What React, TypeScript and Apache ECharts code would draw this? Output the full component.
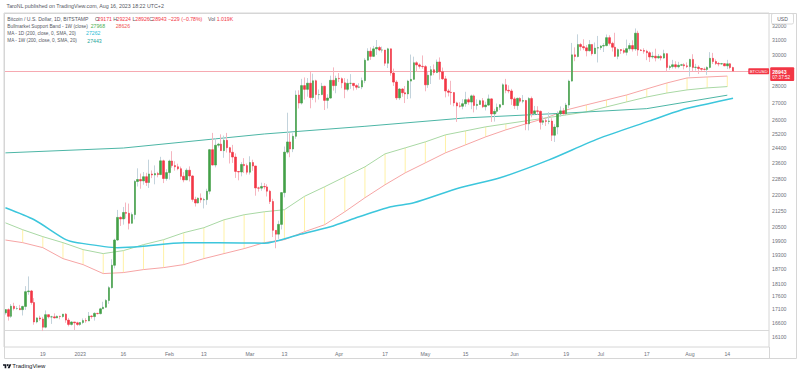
import React, { useEffect, useRef } from "react";
import * as echarts from "echarts";

// ---- categories (daily, Dec 6 2022 .. Aug 28 2023, last 12 days empty right margin)
const startDateUTC = [2022, 11, 6];
const categoryCount = 266;

// ---- daily candles (BITSTAMP BTCUSD), Dec 6 2022 .. Aug 16 2023; open = previous close
const firstOpen = 16970;
const closes = [
  // Dec 6-31
  17090, 16840, 17220, 17130, 17130, 17090, 17210, 17780, 17810, 17360, 16630, 16780, 16740, 16440, 16900, 16820, 16820, 16780, 16840, 16830, 16920, 16700, 16540, 16630, 16600, 16540,
  // Jan
  16610, 16680, 16670, 16850, 16830, 16950, 16940, 17120, 17180, 17440, 17940, 18850, 19930, 20950, 20880, 21180, 21140, 20680, 21080, 22680, 22780, 22710, 22920, 22630, 23060, 23010, 23080, 23030, 23740, 22830, 23130,
  // Feb
  23730, 23490, 23430, 23330, 22940, 22760, 23250, 22960, 21800, 21630, 21860, 21780, 21790, 22200, 24330, 23520, 24570, 24630, 24280, 24840, 24440, 24190, 23940, 23190, 23160, 23550, 23490, 23150,
  // Mar
  23650, 23470, 22360, 22350, 22430, 22410, 22200, 21700, 20360, 20190, 20630, 22130, 24200, 24750, 24370, 25060, 27450, 26970, 28030, 27800, 28180, 27300, 28330, 27480, 27480, 27990, 27130, 27270, 28360, 28030, 28480,
  // Apr
  28460, 28200, 27800, 28170, 28170, 28030, 27930, 27950, 28340, 29650, 30240, 29900, 30400, 30490, 30320, 30320, 29450, 30400, 28820, 28250, 27280, 27820, 27590, 27520, 28310, 28420, 29480, 29340, 29250, 29230,
  // May
  28080, 28680, 29030, 28850, 29530, 28900, 28450, 27700, 27620, 27600, 26980, 26800, 26780, 26930, 27170, 27030, 27400, 26830, 26890, 27110, 26750, 26850, 27220, 26330, 26480, 26720, 26870, 28080, 27740, 27700, 27220,
  // Jun
  26820, 27250, 27080, 27120, 25760, 27240, 26350, 26510, 26480, 25850, 25940, 25900, 25920, 25120, 25580, 26330, 26510, 26340, 26850, 28310, 30000, 29890, 30690, 30550, 30470, 30270, 30690, 30080, 30450, 30480,
  // Jul
  30590, 30620, 31160, 30770, 30510, 29900, 30350, 30290, 30170, 30410, 30620, 30390, 31470, 30320, 30290, 30240, 30140, 29860, 29910, 29800, 29900, 29790, 30080, 29180, 29230, 29350, 29220, 29320, 29350, 29280, 29230,
  // Aug 1-16
  29700, 29180, 29190, 29110, 29060, 29050, 29180, 29770, 29560, 29430, 29400, 29420, 29280, 29410, 29171, 28943,
];
const highs = [
  17100, 17140, 17300, 17350, 17220, 17270, 17240, 18000, 18390, 17850, 17530, 16800, 16860, 16820, 17060, 16900, 16860, 16950, 16870, 16860, 16930, 16960, 16780, 16660, 16630, 16640,
  16630, 16760, 16770, 17000, 16880, 16990, 16970, 17160, 17390, 17490, 18000, 19100, 19990, 21300, 21000, 21440, 21650, 21600, 21180, 22750, 23350, 23080, 23160, 23120, 23800, 23240, 23500, 23170, 23950, 23800, 23300,
  23800, 24250, 23720, 23590, 23440, 23150, 23350, 23450, 22990, 21930, 21900, 22090, 21880, 22320, 24370, 25250, 24950, 24700, 25170, 25100, 25250, 24480, 24590, 24130, 23200, 23670, 23880, 23600,
  23980, 23800, 23480, 22420, 22620, 22600, 22540, 22270, 21830, 20370, 20800, 22160, 24500, 26400, 25230, 25230, 27730, 27740, 28450, 28540, 28500, 28880, 28780, 28400, 27790, 28200, 28020, 27500, 28650, 29180, 28650,
  28820, 28540, 28500, 28450, 28750, 28190, 28110, 28180, 28530, 29780, 30440, 30500, 30600, 31000, 30600, 30550, 30330, 30470, 30420, 29100, 28370, 27880, 27880, 28000, 28390, 30020, 29880, 29580, 29440, 29960,
  29330, 28880, 29270, 29370, 29690, 29830, 29170, 28640, 27830, 28330, 27630, 27050, 27020, 27200, 27650, 27290, 27480, 27480, 27190, 27170, 27270, 27050, 27480, 27250, 26630, 26940, 26900, 28170, 28450, 28050, 27830,
  27340, 27300, 27320, 27450, 27160, 27330, 27360, 26800, 26780, 26530, 26200, 26090, 26430, 26080, 25740, 26480, 26770, 26680, 26980, 28400, 30800, 30500, 31390, 30800, 31050, 30650, 31000, 30710, 30830, 31280,
  30660, 30780, 31380, 31330, 30880, 31500, 30440, 30380, 30430, 31030, 30800, 30980, 31800, 31640, 30390, 30440, 30340, 30240, 30200, 30410, 30060, 29980, 30340, 30100, 29340, 29670, 29580, 29540, 29410, 29450, 29500,
  29740, 30040, 29410, 29310, 29120, 29180, 29250, 30180, 30130, 29700, 29530, 29470, 29460, 29670, 29460, 29224,
];
const lows = [
  16900, 16680, 16780, 17060, 17090, 17070, 16870, 17080, 17660, 17280, 16530, 16580, 16670, 16300, 16400, 16760, 16560, 16760, 16770, 16730, 16790, 16600, 16470, 16500, 16340, 16490,
  16490, 16550, 16600, 16660, 16750, 16680, 16910, 16910, 17110, 17150, 17310, 17900, 18720, 19890, 20560, 20620, 20900, 20400, 20660, 20860, 22430, 22320, 22520, 22460, 22360, 22850, 22540, 22890, 23000, 22600, 22720,
  22780, 23380, 23230, 23250, 22770, 22640, 22750, 22680, 21690, 21460, 21600, 21640, 21370, 21540, 22050, 23500, 23400, 24450, 24260, 23900, 24180, 23600, 23630, 22860, 22740, 22940, 23110, 23030,
  23030, 23220, 21980, 22180, 22220, 22290, 21940, 21580, 20060, 19570, 19980, 20400, 21900, 24100, 23930, 24200, 24920, 26650, 26880, 27180, 27350, 26660, 27160, 27010, 27180, 27440, 26560, 26650, 27230, 27720, 27560,
  28250, 27870, 27260, 27680, 27830, 27730, 27780, 27870, 27810, 28180, 29620, 29670, 29870, 29990, 30240, 30150, 29280, 29140, 28650, 28010, 27150, 27150, 27350, 26970, 27210, 27250, 28390, 28910, 29100, 29090,
  27680, 27890, 28130, 28680, 28810, 28400, 28390, 27310, 27370, 26870, 26780, 25870, 26700, 26600, 26750, 26870, 26610, 26420, 26580, 26860, 26670, 26530, 26800, 25870, 25890, 26360, 26560, 26860, 27560, 27560, 26860,
  26620, 26570, 26960, 26960, 25400, 25390, 26130, 26280, 26290, 25440, 25700, 25640, 25740, 24800, 24750, 25170, 26170, 26300, 26250, 26660, 28280, 29580, 29830, 30280, 30310, 29900, 30230, 29950, 30050, 29500,
  30330, 30190, 30570, 30630, 30220, 29860, 29710, 30060, 30070, 29960, 30280, 30220, 30260, 29940, 30250, 30080, 29650, 29530, 29750, 29570, 29740, 29630, 29740, 28900, 29030, 29110, 29100, 29120, 29270, 29050, 29140,
  28600, 28950, 28970, 28760, 28960, 28980, 28700, 29120, 29400, 29330, 29250, 29360, 29260, 29070, 29060, 28926,
];

// ---- weekly indicators (plotted at each Monday)
const weekDates = [
  "2022-12-12", "2022-12-19", "2022-12-26", "2023-01-02", "2023-01-09", "2023-01-16", "2023-01-23", "2023-01-30",
  "2023-02-06", "2023-02-13", "2023-02-20", "2023-02-27", "2023-03-06", "2023-03-13", "2023-03-20", "2023-03-27",
  "2023-04-03", "2023-04-10", "2023-04-17", "2023-04-24", "2023-05-01", "2023-05-08", "2023-05-15", "2023-05-22",
  "2023-05-29", "2023-06-05", "2023-06-12", "2023-06-19", "2023-06-26", "2023-07-03", "2023-07-10", "2023-07-17",
  "2023-07-24", "2023-07-31", "2023-08-07", "2023-08-14",
];
const bandEma21 = [
  20389, 20079, 19815, 19512, 19341, 19469, 19728, 19946, 20255, 20479, 20841, 21074, 21213, 21309, 21950, 22418,
  22918, 23426, 24108, 24428, 24754, 25141, 25364, 25590, 25760, 25929, 26099, 26273, 26449, 26743, 27038, 27333,
  27574, 27764, 27888, 27968,
];
const bandSma20 = [
  19815, 19598, 19128, 18876, 18506, 18547, 18670, 18752, 18876, 19128, 19341, 19555, 19815, 19946, 20299, 20615,
  21213, 21880, 22518, 23117, 23631, 24161, 24592, 25030, 25420, 25760, 26099, 26561, 26862, 27156, 27457, 27826,
  28194, 28508, 28570, 28626,
];
const bandStartDate = "2022-12-06";
const bandStartEma = 20700;
const bandStartSma = 19930;

const wma200Dates = ["2022-12-06", "2023-01-16", "2023-03-06", "2023-04-10", "2023-05-15", "2023-06-19", "2023-07-17", "2023-08-14"];
const wma200Values = [24160, 24420, 25190, 25620, 26100, 26380, 26640, 27443];

const dma200Dates = [
  "2022-12-06", "2022-12-16", "2022-12-27", "2022-12-31", "2023-01-14", "2023-01-22", "2023-02-06", "2023-02-18",
  "2023-03-06", "2023-03-18", "2023-03-29", "2023-04-08", "2023-04-19", "2023-04-27", "2023-05-13", "2023-05-27",
  "2023-06-13", "2023-06-30", "2023-07-18", "2023-07-29", "2023-08-07", "2023-08-16",
];
const dma200Values = [
  21402, 20841, 19946, 19815, 19598, 19642, 19815, 19815, 19790, 20166, 20525, 20981, 21449, 21638, 22370, 22869,
  23789, 24919, 25929, 26561, 26917, 27262,
];

// ---- axes
const priceTicks = [32000, 31000, 30000, 28000, 27000, 26000, 25200, 24400, 23600, 22800, 22000, 21250, 20500, 19900, 19300, 18700, 18100, 17600, 17100, 16600, 16100];
const priceMin = 15736;
const priceMax = 32905;
const xTickDates = ["2022-12-19", "2023-01-01", "2023-01-16", "2023-02-01", "2023-02-13", "2023-03-01", "2023-03-13", "2023-04-01", "2023-04-17", "2023-05-01", "2023-05-15", "2023-06-01", "2023-06-19", "2023-07-01", "2023-07-17", "2023-08-01", "2023-08-14"];
const xTickLabels = ["19", "2023", "16", "Feb", "13", "Mar", "13", "Apr", "17", "May", "15", "Jun", "19", "Jul", "17", "Aug", "14"];
const lastPrice = 28943;
const refLinePrice = 16340;

const FONT = "Liberation Sans, Arial, sans-serif";
const GRAY = "#55585f";
const RED = "#f23645";

echarts.graphic.registerShape(
  "tvlogo",
  echarts.graphic.extendPath("M14 22H7V11H0V4h14v18zM28 22h-8l7.5-18h8L28 22z", {})
);

function txt(x: number, y: number, text: string, fill: string, fontSize = 5.2, extra: any = {}) {
  return {
    type: "text",
    x,
    y,
    z: 100,
    style: {
      text,
      fill,
      fontSize,
      fontFamily: FONT,
      align: "left",
      textAlign: "left",
      verticalAlign: "middle",
      textVerticalAlign: "middle",
      ...extra,
    },
  };
}

export default function App() {
  const ref = useRef<HTMLDivElement>(null);
  useEffect(() => {
    if (!ref.current) return;
    const chart = echarts.init(ref.current, undefined, { renderer: "svg" });

    const categories: string[] = [];
    const d0 = Date.UTC(startDateUTC[0], startDateUTC[1], startDateUTC[2]);
    for (let i = 0; i < categoryCount; i++) {
      categories.push(new Date(d0 + i * 86400000).toISOString().slice(0, 10));
    }

    const ohlc = closes.map((c, i) => {
      const o = i === 0 ? firstOpen : closes[i - 1];
      return [o, c, lows[i], highs[i]];
    });
    const bodies = ohlc.map(([o, c]) => [o, c, Math.min(o, c), Math.max(o, c)]);

    const smaLine = [[bandStartDate, bandStartSma], ...weekDates.map((d, i) => [d, bandSma20[i]])];
    const emaLine = [[bandStartDate, bandStartEma], ...weekDates.map((d, i) => [d, bandEma21[i]])];
    const bandFill = weekDates.map((d, i) => [d, bandEma21[i], bandSma20[i]]);

    const option: any = {
      animation: false,
      backgroundColor: "#ffffff",
      grid: { left: 4, right: 31, top: 13, bottom: 28, show: true, borderColor: "#d6d6d6", borderWidth: 1 },
      xAxis: {
        type: "category",
        data: categories,
        boundaryGap: true,
        axisLine: { show: false },
        axisTick: { show: false },
        splitLine: { show: false },
        axisLabel: {
          interval: (_i: number, v: string) => xTickDates.indexOf(v) >= 0,
          formatter: (v: string) => xTickLabels[xTickDates.indexOf(v)] ?? "",
          fontSize: 5.2,
          fontFamily: FONT,
          color: "#6f727b",
          margin: 4,
        },
      },
      yAxis: {
        type: "log",
        logBase: 10,
        position: "right",
        min: priceMin,
        max: priceMax,
        axisLine: { show: false },
        axisTick: { show: false },
        splitLine: { show: false },
        axisLabel: {
          customValues: priceTicks,
          formatter: (v: number) => String(Math.round(v)),
          fontSize: 5.2,
          fontFamily: FONT,
          color: "#6f727b",
          margin: 3,
        },
      },
      series: [
        {
          type: "custom",
          name: "band fill",
          z: 1,
          silent: true,
          encode: { x: 0, y: [1, 2] },
          data: bandFill,
          renderItem: (_p: any, api: any) => {
            const x = api.value(0);
            const a = api.coord([x, api.value(1)]);
            const b = api.coord([x, api.value(2)]);
            return {
              type: "line",
              shape: { x1: a[0], y1: a[1], x2: b[0], y2: b[1] },
              style: { stroke: "#fff1a6", lineWidth: 1 },
            };
          },
        },
        {
          type: "line",
          name: "20W SMA",
          z: 2,
          data: smaLine,
          symbol: "none",
          lineStyle: { color: "#f6a5a5", width: 1 },
        },
        {
          type: "line",
          name: "21W EMA",
          z: 2,
          data: emaLine,
          symbol: "none",
          lineStyle: { color: "#a9d8a4", width: 1 },
        },
        {
          type: "line",
          name: "MA 1W",
          z: 2,
          data: wma200Dates.map((d, i) => [d, wma200Values[i]]),
          symbol: "none",
          lineStyle: { color: "#4db6a6", width: 1 },
        },
        {
          type: "line",
          name: "MA 1D",
          z: 3,
          data: dma200Dates.map((d, i) => [d, dma200Values[i]]),
          symbol: "none",
          smooth: 0.25,
          lineStyle: { color: "#3cc6dc", width: 1.5 },
        },
        {
          type: "candlestick",
          name: "wicks",
          z: 5,
          barWidth: 1,
          data: ohlc,
          itemStyle: { color: "#c3d3dc", color0: "#f5b6c0", borderColor: "#c3d3dc", borderColor0: "#f5b6c0", borderWidth: 1 },
        },
        {
          type: "candlestick",
          name: "BTCUSD",
          z: 6,
          barWidth: 2,
          data: bodies,
          itemStyle: { color: "#43a047", color0: RED, borderColor: "#43a047", borderColor0: RED, borderWidth: 0.6 },
          markLine: {
            silent: true,
            symbol: ["none", "none"],
            animation: false,
            label: { show: false },
            data: [
              { yAxis: lastPrice, lineStyle: { color: "#f6a9b1", width: 1, type: "solid" } },
              { yAxis: refLinePrice, lineStyle: { color: "#d9d9d9", width: 1, type: "solid" } },
            ],
          },
        },
      ],
      graphic: [
        { type: "rect", z: 99, shape: { x: 4.5, y: 13.5, width: 792, height: 345 }, style: { fill: "none", stroke: "#d6d6d6", lineWidth: 1 } },
        { type: "line", z: 99, shape: { x1: 769.5, y1: 347, x2: 769.5, y2: 359 }, style: { stroke: "#d6d6d6", lineWidth: 1 } },
        txt(6.5, 6, "TaroNL published on TradingView.com, Aug 16, 2023 18:22 UTC+2", "#55585f", 5.3),
        txt(7.3, 19, "Bitcoin / U.S. Dollar, 1D, BITSTAMP", GRAY, 5.1),
        txt(95, 19, "O", GRAY),
        txt(97.5, 19, "29171", RED),
        txt(113.3, 19, "H", GRAY),
        txt(116.5, 19, "29224", RED),
        txt(132.5, 19, "L", GRAY),
        txt(135.3, 19, "28926", RED),
        txt(149.2, 19, "C", GRAY),
        txt(152.3, 19, "28943", RED),
        txt(168, 19, "\u2212229 (\u22120.78%)", RED),
        txt(208, 19, "Vol", GRAY),
        txt(216.7, 19, "1.019K", RED),
        txt(7.3, 26, "Bullmarket Support Band - 1W (close)", GRAY, 4.8),
        txt(90.7, 26, "27968", "#4caf50"),
        txt(115.7, 26, "28626", "#ef5350"),
        txt(7.3, 33.4, "MA - 1D (200, close, 0, SMA, 20)", GRAY, 4.7),
        txt(86, 33.4, "27262", "#1fbcd6"),
        txt(7.3, 40.8, "MA - 1W (200, close, 0, SMA, 20)", GRAY, 4.7),
        txt(87.3, 40.8, "27443", "#26a69a"),
        { type: "rect", z: 100, shape: { x: 771.5, y: 13.5, width: 22, height: 10.5, r: 1.5 }, style: { fill: "#ffffff", stroke: "#d0d0d0", lineWidth: 0.8 } },
        txt(782.5, 18.8, "USD", "#55585f", 5, { align: "center", textAlign: "center" }),
        { type: "rect", z: 100, shape: { x: 770.2, y: 67.3, width: 24, height: 13.6, r: 1 }, style: { fill: RED } },
        txt(772.2, 71.6, "28943", "#ffffff", 5.2, { fontWeight: "bold" }),
        txt(772.2, 77.4, "07:37:52", "#ffffff", 4.6),
        { type: "rect", z: 100, shape: { x: 748.3, y: 68.2, width: 20.8, height: 6, r: 0.8 }, style: { fill: RED } },
        txt(758.7, 71.3, "BTCUSD", "#ffffff", 4.4, { align: "center", textAlign: "center" }),
        { type: "tvlogo", z: 100, x: 3, y: 363.2, scaleX: 0.235, scaleY: 0.235, style: { fill: "#131722" } },
        { type: "circle", z: 100, shape: { cx: 3 + 20 * 0.235, cy: 363.2 + 8 * 0.235, r: 4 * 0.235 }, style: { fill: "#131722" } },
        txt(12.3, 366.2, "TradingView", "#131722", 6),
      ],
    };
    chart.setOption(option);
    return () => chart.dispose();
  }, []);
  return <div ref={ref} style={{ width: 800, height: 375, position: "absolute", left: 0, top: 0 }} />;
}
